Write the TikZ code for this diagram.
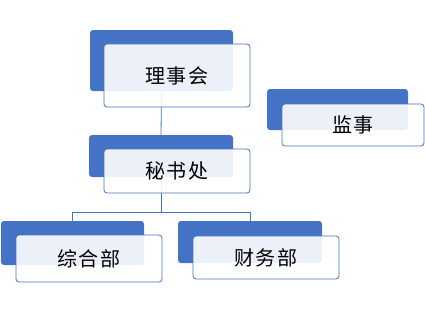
\documentclass[tikz,border=0pt]{standalone}
\usepackage{fontspec}
\newfontfamily\cjk[LetterSpace=6]{Noto Sans CJK SC}
\usepackage{xcolor}
\definecolor{myblue}{HTML}{4472C4}
\usepackage{tikz}
\usetikzlibrary{calc}

\begin{document}
\begin{tikzpicture}[x=1pt, y=-1pt,
    backbox/.style={fill=myblue, rounded corners=3pt, inner sep=0pt},
    frontbox/.style={draw=myblue, line width=0.8pt, fill=white, fill opacity=0.9,
      text opacity=1, rounded corners=3pt, inner sep=0pt, font=\cjk\fontsize{20}{20}\selectfont},
    link/.style={draw=myblue, line width=0.8pt}]
      \useasboundingbox (0,0) rectangle (425,311);

      % blue boxes behind
      \node[backbox, minimum width=143pt, minimum height=61pt] (lishiB) at (161.5,60.5) {};
      \node[backbox, minimum width=141pt, minimum height=41pt] (jianshiB) at (337.5,109.5) {};
      \node[backbox, minimum width=144pt, minimum height=42pt] (mishuB) at (161,156) {};
      \node[backbox, minimum width=143pt, minimum height=44pt] (zongheB) at (72.5,243) {};
      \node[backbox, minimum width=144pt, minimum height=42pt] (caiwuB) at (250,242) {};

      % links
      \coordinate (split) at ($(mishuB.south)+(0,35)$);
      \path[link] (lishiB.south) -- (mishuB.north);
      \path[link] (mishuB.south) -- (split);
      \path[link] (zongheB.north) |- (split) -| (caiwuB.north);

      % white boxes in front
      \node[frontbox, minimum width=146pt, minimum height=63pt] (lishi) at ($(lishiB)+(15.5,15)$) {理事会};
      \node[frontbox, minimum width=142pt, minimum height=42pt] (jianshi) at ($(jianshiB)+(15.5,15.5)$) {监事};
      \node[frontbox, minimum width=146pt, minimum height=44pt] (mishu) at ($(mishuB)+(16,15)$) {秘书处};
      \node[frontbox, minimum width=146pt, minimum height=47pt] (zonghe) at ($(zongheB)+(16.5,15.5)$) {综合部};
      \node[frontbox, minimum width=146pt, minimum height=43pt] (caiwu) at ($(caiwuB)+(16,15.5)$) {财务部};
    \end{tikzpicture}
\end{document}
